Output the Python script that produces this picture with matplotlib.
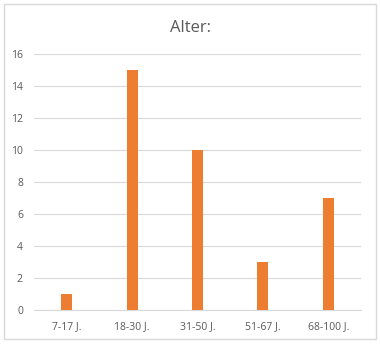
import matplotlib
matplotlib.use("Agg")
import matplotlib.pyplot as plt
from matplotlib.patches import Rectangle

categories = ["7-17 J.", "18-30 J.", "31-50 J.", "51-67 J.", "68-100 J."]
values = [1, 15, 10, 3, 7]
yticks = [0, 2, 4, 6, 8, 10, 12, 14, 16]

plt.rcParams['font.family'] = ['Open Sans', 'DejaVu Sans']

fig = plt.figure(figsize=(3.8, 3.47), dpi=100)
fig.patches.append(Rectangle((4/380, 1-339/347), 372/380, 335/347, transform=fig.transFigure,
                             fill=False, edgecolor='#D9D9D9', linewidth=1))
ax = fig.add_axes([34/380, 1-310/347, 327/380, 256/347])
x = range(len(categories))
ax.bar(x, values, width=0.17, color='#ED7D31', zorder=3)
ax.set_xlim(-0.5, len(categories)-0.5)
ax.set_ylim(0, 16)
ax.set_yticks(yticks)
ax.set_xticks(list(x))
ax.set_xticklabels(categories)
ax.grid(axis='y', color='#D9D9D9', linewidth=0.8, zorder=0)
for s in ['top', 'right', 'left']:
    ax.spines[s].set_visible(False)
ax.spines['bottom'].set_color('#D9D9D9')
ax.tick_params(axis='both', length=0, labelsize=7.5, colors='#595959', pad=8)
ax.tick_params(axis='y', pad=8)
fig.text(0.5, 1-28/347, "Alter:", ha='center', va='center', fontsize=12, color='#595959')
fig.savefig("out.png", dpi=100)
